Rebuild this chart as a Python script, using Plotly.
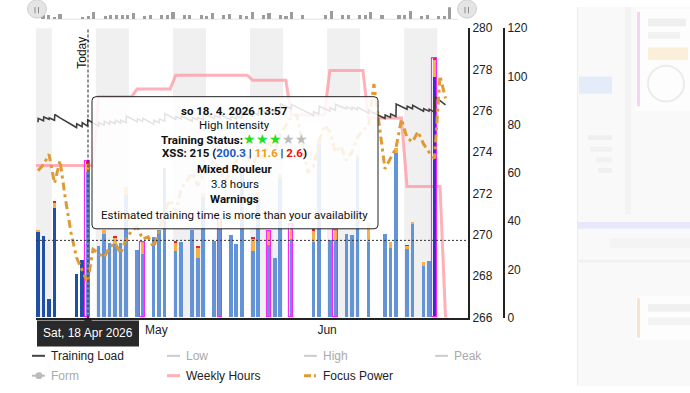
import plotly.graph_objects as go
from datetime import datetime, timedelta

W, H = 690, 393
def PX(x): return x / W
def PY(y): return 1 - y / H

BASE = datetime(2026, 4, 9, 12, 0)   # day index 0 = Thu 9 Apr 2026 (marks at noon)
def day(i, hours=0.0):
    return BASE + timedelta(days=i, hours=hours)

# ---------------- data ----------------
bar_day    = [0, 1, 2, 3, 7, 8, 9, 11, 12, 13, 14, 15, 16, 18, 19, 21, 22, 23, 25, 26, 28, 29, 30,
              32, 33, 35, 36, 37, 39, 40, 42, 43, 44, 46, 50, 51, 53, 54, 56, 57, 58, 60, 63, 64,
              65, 67, 68, 70, 71, 72]
bar_blue   = [35.5, 33.6, 7.7, 45.2, 18.1, 23.6, 60.4, 29.5, 34.4, 30.8, 30.4, 30.7, 50.8, 28.1, 26.1,
              33.2, 36.1, 62.0, 27.5, 31.2, 36.1, 24.8, 50.0, 31.8, 36.8, 34.1, 30.4, 60.0, 27.7, 50.0,
              30.0, 24.8, 57.6, 32.5, 31.2, 72.0, 32.1, 32.1, 34.5, 34.1, 66.0, 31.2, 34.5, 28.8,
              68.1, 28.4, 38.5, 21.1, 23.2, 99.5]
bar_orange = [0.6, 0, 0, 2.5, 0, 0, 3.5, 0, 1.7, 0, 2.5, 0, 3.2, 0, 5.1,
              0, 0, 0, 3.6, 0, 0, 4.3, 1.5, 0, 4.0, 0, 0, 2.0, 4.9, 2.0,
              6.0, 0, 2.0, 6.3, 4.6, 2.0, 0, 4.0, 0, 0, 1.5, 8.0, 0, 2.4,
              2.3, 1.2, 1.0, 1.7, 0, 7.3]
bar_red    = [0, 0, 0, 0.7, 0, 0, 0.8, 0, 0, 0, 0.6, 0, 0, 0, 0,
              0, 0, 0, 0.6, 0, 0, 0.6, 0, 0, 0, 0, 0, 0, 0.6, 0,
              0, 0, 0, 0, 0.6, 0, 0, 0, 0, 0, 0, 0, 0, 0,
              0, 0.3, 0, 0, 0, 0.9]
done_days = [0, 1, 2, 3, 7, 8]
key_days  = [9, 19, 33, 42, 46, 54]
peak_days = [72]

# training load: value each day at noon, and value right after the session
tl_lo = [81.0, 81.6, 82.2, 81.8, 82.8, 81.4, 80.0, 78.8, 79.2, 79.4,
         80.6, 79.4, 79.8, 80.2, 80.4, 80.6, 80.8, 82.4, 81.2, 81.4,
         81.4, 80.2, 80.8, 81.4, 83.4, 82.2, 82.4, 82.6, 81.4, 82.0,
         82.0, 83.6, 82.6, 82.8, 83.2, 82.0, 82.4, 82.6, 84.6, 83.6,
         84.0, 85.6, 84.6, 85.2, 85.2, 87.6, 86.6, 87.2, 86.0, 84.8,
         83.8, 84.4, 86.6, 85.6, 86.0, 87.4, 86.6, 86.4, 86.2, 86.0,
         84.8, 84.8, 83.6, 82.6, 83.0, 83.4, 87.6, 86.4, 86.6, 86.8,
         85.6, 85.6, 85.2, 90.0, 88.2]
tl_hi = {0: 82.6, 1: 83.2, 2: 82.8, 3: 84.2, 7: 80.4, 8: 80.8, 9: 82.0, 11: 80.8, 12: 81.4,
         13: 81.4, 14: 81.8, 15: 81.8, 16: 83.6, 18: 82.4, 19: 82.6, 21: 81.8, 22: 82.4, 23: 84.6,
         25: 83.4, 26: 83.6, 28: 83.0, 29: 83.0, 30: 84.6, 32: 83.8, 33: 84.2, 35: 83.4, 36: 83.6,
         37: 85.6, 39: 85.0, 40: 86.6, 42: 86.2, 43: 86.2, 44: 88.6, 46: 88.4, 50: 85.4, 51: 87.6,
         53: 87.0, 54: 88.4, 56: 87.4, 57: 87.2, 58: 87.2, 60: 86.0, 63: 84.0, 64: 84.4, 65: 88.6,
         67: 87.6, 68: 88.0, 70: 86.6, 71: 86.4, 72: 91.6}

# weekly hours (week starting Monday, day index)
week_start = [-3, 4, 11, 18, 25, 32, 39, 46, 53, 60, 67, 74]
week_hours = [63.1, 63.1, 91.6, 94.8, 100.5, 100.5, 98.4, 84.0, 102.5, 82.8, 54.4, 0.0]

# focus power (watts), daily
focus_power = [273.1, 273.4, 273.9, 272.5, 273.6, 271.7, 270.1, 268.9, 268.3, 267.7,
               269.3, 269.1, 268.9, 269.4, 269.6, 269.1, 269.8, 270.2, 270.4, 269.8,
               269.9, 269.4, 270.2, 271.2, 271.7, 271.1, 272.2, 272.6, 273.0, 272.4,
               272.9, 273.3, 273.6, 273.1, 272.6, 273.0, 273.6, 274.0, 273.8, 273.3,
               274.1, 273.7, 274.5, 274.0, 274.9, 275.3, 275.7, 275.8, 274.5, 273.0,
               273.3, 274.5, 275.3, 275.0, 274.0, 274.3, 273.6, 274.0, 274.7, 275.1,
               275.2, 277.3, 275.2, 273.2, 273.7, 274.2, 275.6, 274.7, 274.5, 275.0,
               274.4, 274.0, 273.7, 277.7, 276.6]

threshold = 32
month_ticks = ["2026-05-01", "2026-06-01"]
month_labels = ["May", "Jun"]
left_ticks = [266, 268, 270, 272, 274, 276, 278, 280]
right_ticks = [0, 20, 40, 60, 80, 100, 120]
today = datetime(2026, 4, 18, 13, 57)

# ---------------- colours ----------------
C_DONE, C_PLAN, C_PEAK = "#1f50a6", "#6394d8", "#3b2ed0"
C_OR, C_RED, C_MAG = "#f6b04a", "#e8232c", "#ff22ff"
C_TL, C_WH, C_FP = "#404040", "rgba(255,150,160,0.75)", "#df9a33"
FONT = "Liberation Sans, Arial, sans-serif"

fig = go.Figure()

# weekly hours (base axis, drawn under bars)
wk_x, wk_y = [], []
for s, v in zip(week_start, week_hours):
    wk_x += [day(s), day(s + 6)]
    wk_y += [v, v]
wk_x, wk_y = wk_x[:-1], wk_y[:-1]
fig.add_trace(go.Scatter(x=wk_x, y=wk_y, mode="lines", line=dict(color=C_WH, width=3),
                         xaxis="x", yaxis="y", showlegend=False, hoverinfo="skip"))

# dummy for left-value axis
fig.add_trace(go.Scatter(x=[day(0)], y=[None], xaxis="x", yaxis="y2", showlegend=False))

# bars
def state(d):
    if d in done_days: return "done"
    if d in key_days: return "key"
    if d in peak_days: return "peak"
    return "plan"
bar_state = [state(d) for d in bar_day]
bx = [day(i) for i in bar_day]
bw = 0.66 * 86400000
blue_col = [C_DONE if s == "done" else (C_PEAK if s == "peak" else C_PLAN) for s in bar_state]
base_red = [b + o for b, o in zip(bar_blue, bar_orange)]
total = [b + o + r for b, o, r in zip(bar_blue, bar_orange, bar_red)]
fig.add_trace(go.Bar(x=bx, y=bar_blue, base=[0] * len(bx), width=bw, marker=dict(color=blue_col, line=dict(width=0)),
                     xaxis="x", yaxis="y3", showlegend=False, hoverinfo="skip"))
fig.add_trace(go.Bar(x=bx, y=bar_orange, base=bar_blue, width=bw, marker=dict(color=C_OR, line=dict(width=0)),
                     xaxis="x", yaxis="y3", showlegend=False, hoverinfo="skip"))
fig.add_trace(go.Bar(x=bx, y=bar_red, base=base_red, width=bw, marker=dict(color=C_RED, line=dict(width=0)),
                     xaxis="x", yaxis="y3", showlegend=False, hoverinfo="skip"))
kx = [x for x, s in zip(bx, bar_state) if s in ("key", "peak")]
ky = [t for t, s in zip(total, bar_state) if s in ("key", "peak")]
fig.add_trace(go.Bar(x=kx, y=ky, base=[0] * len(kx), width=0.78 * 86400000,
                     marker=dict(color="rgba(0,0,0,0)", line=dict(color=C_MAG, width=1.1)),
                     xaxis="x", yaxis="y3", showlegend=False, hoverinfo="skip"))

# training load
tl_x, tl_y = [], []
for i, lo in enumerate(tl_lo):
    tl_x.append(day(i)); tl_y.append(lo)
    if i in tl_hi:
        tl_x.append(day(i, 1)); tl_y.append(tl_hi[i])
fig.add_trace(go.Scatter(x=tl_x, y=tl_y, mode="lines", line=dict(color=C_TL, width=1.6),
                         xaxis="x", yaxis="y3", showlegend=False, hoverinfo="skip"))

# focus power
fig.add_trace(go.Scatter(x=[day(i) for i in range(len(focus_power))], y=focus_power, mode="lines",
                         line=dict(color=C_FP, width=3, dash="8px,4px,3px,4px"),
                         xaxis="x", yaxis="y4", showlegend=False, hoverinfo="skip"))

# navigator
fig.add_trace(go.Bar(x=bx, y=total, width=0.55 * 86400000, marker=dict(color="#9c9c9c", line=dict(width=0)),
                     xaxis="x2", yaxis="y5", showlegend=False, hoverinfo="skip"))

dom_x = [PX(36), PX(468)]
dom_y = [PY(322), PY(22)]
k = 5.507
xr = [day((36 - 38) / k), day((468 - 38) / k)]
nk = 5.65
xr2 = [day((36 - 43) / nk), day((468 - 43) / nk)]

tickfont = dict(family=FONT, size=12, color="#222")
fig.update_layout(
    width=W, height=H, margin=dict(l=0, r=0, t=0, b=0),
    paper_bgcolor="white", plot_bgcolor="rgba(0,0,0,0)",
    barmode="overlay", bargap=0,
    xaxis=dict(domain=dom_x, type="date", range=xr, tickvals=month_ticks, ticktext=month_labels,
               showgrid=False, zeroline=False, showline=True, linecolor="#222", linewidth=1.5,
               ticks="", tickfont=tickfont, anchor="y", fixedrange=True),
    yaxis=dict(domain=dom_y, range=[0, 120], visible=False, fixedrange=True),
    yaxis2=dict(domain=dom_y, range=[266, 280], overlaying="y", side="right", anchor="x",
                tickvals=left_ticks, showgrid=False, zeroline=False, showline=True, linecolor="#222",
                linewidth=2, ticks="", tickfont=tickfont, fixedrange=True),
    yaxis3=dict(domain=dom_y, range=[0, 120], overlaying="y", side="right", anchor="free",
                position=PX(504), tickvals=right_ticks, showgrid=False, zeroline=False, showline=True,
                linecolor="#222", linewidth=2, ticks="", tickfont=tickfont, fixedrange=True),
    yaxis4=dict(domain=dom_y, range=[266, 280], overlaying="y", visible=False, fixedrange=True),
    xaxis2=dict(domain=dom_x, type="date", range=xr2, visible=False, anchor="y5", fixedrange=True),
    yaxis5=dict(domain=[PY(12.5), PY(0.3)], range=[0, 110], visible=False, anchor="x2", fixedrange=True),
)

shapes = []
# weekly shading bands (Mon 00:00 -> Sun 00:00, alternate weeks)
for mon in [datetime(2026, 4, 6), datetime(2026, 4, 20), datetime(2026, 5, 4), datetime(2026, 5, 18),
            datetime(2026, 6, 1), datetime(2026, 6, 15)]:
    shapes.append(dict(type="rect", xref="x", yref="paper", x0=max(mon, xr[0]), x1=mon + timedelta(days=6),
                       y0=PY(322), y1=PY(22), fillcolor="#f0f0f0", line=dict(width=0), layer="below"))

# right blurred page content
def prect(x0, y0, x1, y1, fill, line=None, typ="rect", lw=0, layer="below"):
    d = dict(type=typ, xref="paper", yref="paper", x0=PX(x0), x1=PX(x1), y0=PY(y1), y1=PY(y0),
             fillcolor=fill, layer=layer, line=dict(width=lw, color=line or "rgba(0,0,0,0)"))
    return d
shapes += [
    prect(577, 0, 690, 393, "#f9f9f9"),
    prect(577, 0, 578, 393, "#ececec"),
    prect(625, 0, 631, 215, "#f3f3f3"),
    prect(636, 2, 690, 108, "#fdfdfd"),
    prect(637, 5, 640, 103, "#f7d2f2"),
    prect(648, 12, 686, 20, "#efefef"),
    prect(648, 26, 680, 33, "#f2f2f2"),
    prect(648, 42, 688, 55, "#fcefd9"),
    prect(648, 61, 684, 98, "rgba(0,0,0,0)", "#ececec", "circle", 2),
    prect(579, 72, 612, 90, "#e4ebf9"),
    prect(588, 133, 612, 138, "#efefef"),
    prect(590, 145, 612, 150, "#f1f1f1"),
    prect(596, 156, 612, 161, "#f1f1f1"),
    prect(598, 167, 612, 172, "#f0f0f0"),
    prect(577, 223, 690, 230, "#e8e8fc"),
    prect(610, 240, 690, 250, "#f4f4f4"),
    prect(577, 262, 690, 265, "#f1f1f1"),
    prect(636, 300, 690, 345, "#fdfdfd"),
    prect(637, 302, 640, 343, "#f9e3cc"),
    prect(648, 308, 690, 316, "#f0f0f0"),
    prect(648, 322, 690, 330, "#f3f3f3"),
]

# threshold dotted line
shapes.append(dict(type="line", xref="paper", yref="y3", x0=dom_x[0], x1=dom_x[1], y0=threshold, y1=threshold,
                   line=dict(color="#333", width=1, dash="2px,2px"), layer="above"))
# today line
shapes.append(dict(type="line", xref="x", yref="paper", x0=today, x1=today, y0=PY(322), y1=PY(22),
                   line=dict(color="#222", width=1, dash="3px,2px"), layer="above"))

# tooltip box
def rrect_path(x0, y0, x1, y1, r):
    X = lambda v: PX(v); Y = lambda v: PY(v)
    return (f"M {X(x0+r)},{Y(y0)} L {X(x1-r)},{Y(y0)} Q {X(x1)},{Y(y0)} {X(x1)},{Y(y0+r)} "
            f"L {X(x1)},{Y(y1-r)} Q {X(x1)},{Y(y1)} {X(x1-r)},{Y(y1)} L {X(x0+r)},{Y(y1)} "
            f"Q {X(x0)},{Y(y1)} {X(x0)},{Y(y1-r)} L {X(x0)},{Y(y0+r)} Q {X(x0)},{Y(y0)} {X(x0+r)},{Y(y0)} Z")
shapes.append(dict(type="path", xref="paper", yref="paper", path=rrect_path(92, 93, 378, 230, 4),
                   fillcolor="rgba(255,255,255,0.86)", line=dict(color="#222", width=1), layer="above"))
# date label box with pointer
pth = (f"M {PX(37)},{PY(325)} L {PX(84)},{PY(325)} L {PX(88)},{PY(321)} L {PX(92)},{PY(325)} "
       f"L {PX(139)},{PY(325)} L {PX(139)},{PY(352)} L {PX(37)},{PY(352)} Z")
shapes.append(dict(type="path", xref="paper", yref="paper", path=pth, fillcolor="rgba(25,25,25,0.93)",
                   line=dict(width=0), layer="above"))

# navigator handles
for cx in (37, 467):
    shapes.append(prect(cx - 9.5, -7.5, cx + 9.5, 11.5, "#e4e4e4", "#cfcfcf", "circle", 1, "above"))
    for lx in (cx - 2, cx + 1.5):
        shapes.append(dict(type="line", xref="paper", yref="paper", x0=PX(lx), x1=PX(lx), y0=PY(0), y1=PY(6.5),
                           line=dict(color="#8a8a8a", width=1), layer="above"))
shapes.append(dict(type="line", xref="paper", yref="paper", x0=PX(46), x1=PX(458), y0=PY(12.6), y1=PY(12.6),
                   line=dict(color="#e2e2e2", width=1), layer="below"))

# legend (manual)
legend_items = [
    (32, 361.7, "Training Load", "#444", "solid", 2, "#222", False),
    (167, 361.7, "Low", "#cccccc", "solid", 2, "#aaaaaa", False),
    (304, 361.7, "High", "#cccccc", "solid", 2, "#aaaaaa", False),
    (435, 361.7, "Peak", "#cccccc", "solid", 2, "#aaaaaa", False),
    (32, 382.3, "Form", "#bbbbbb", "solid", 2, "#aaaaaa", True),
    (167, 382.3, "Weekly Hours", "#ffb0b6", "solid", 3, "#222", False),
    (304, 382.3, "Focus Power", C_FP, "7px,3px,2px,3px", 3, "#222", False),
]
annotations = []
for x0, yy, name, col, dash, lw, tcol, marker in legend_items:
    shapes.append(dict(type="line", xref="paper", yref="paper", x0=PX(x0), x1=PX(x0 + 13), y0=PY(yy), y1=PY(yy),
                       line=dict(color=col, width=lw, dash=dash), layer="above"))
    if marker:
        shapes.append(prect(x0 + 3.5, yy - 3.5, x0 + 10.5, yy + 3.5, col, col, "circle", 0, "above"))
    annotations.append(dict(xref="paper", yref="paper", x=PX(x0 + 17), y=PY(yy), text=name, showarrow=False,
                            xanchor="left", yanchor="middle", font=dict(family=FONT, size=12, color=tcol)))

# Today label
annotations.append(dict(xref="paper", yref="paper", x=PX(82.5), y=PY(48), text="Today", textangle=-90,
                        showarrow=False, xanchor="center", yanchor="middle",
                        font=dict(family=FONT, size=12, color="#111")))
# date label
annotations.append(dict(xref="paper", yref="paper", x=PX(88), y=PY(338.5), text="Sat, 18 Apr 2026",
                        showarrow=False, xanchor="center", yanchor="middle",
                        font=dict(family=FONT, size=12, color="white")))

# tooltip text
TF = "Roboto, Arial, sans-serif"
tip = [
    (108.3, "<b>so 18. 4. 2026 13:57</b>"),
    (122.3, "High Intensity"),
    (136.4, "<b>Training Status:</b><span style='color:#22e022;font-size:14px'>★★★</span>"
            "<span style='color:#bdbdbd;font-size:14px'>★★</span>"),
    (151.7, "<b>XSS: 215 (<span style='color:#1a58c8'>200.3</span> | "
            "<span style='color:#f39a12'>11.6</span> | <span style='color:#f01010'>2.6</span>)</b>"),
    (168.3, "<b>Mixed Rouleur</b>"),
    (184.0, "3.8 hours"),
    (199.5, "<b>Warnings</b>"),
    (215.7, "Estimated training time is more than your availability"),
]
for yy, txt in tip:
    annotations.append(dict(xref="paper", yref="paper", x=PX(234.5), y=PY(yy), text=txt, showarrow=False,
                            xanchor="center", yanchor="middle", font=dict(family=TF, size=11.5, color="#111")))

fig.update_layout(shapes=shapes, annotations=annotations)
fig.write_html("out.html")
